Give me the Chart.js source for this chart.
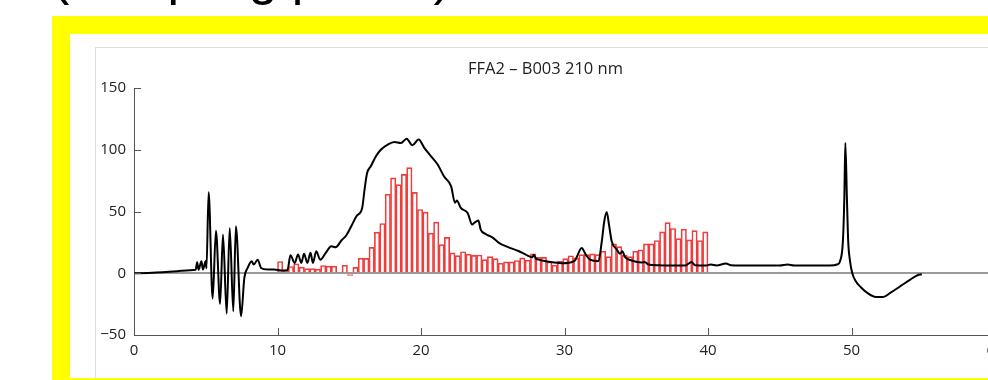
<!DOCTYPE html>
<html>
<head>
<meta charset="utf-8">
<script src="https://cdn.jsdelivr.net/npm/chart.js@4/dist/chart.umd.min.js"></script>
<style>
  html, body { margin: 0; padding: 0; background: #fff; width: 988px; height: 380px; overflow: hidden; position: relative; }
  #caption { position: absolute; left: 52px; top: -50px; font: 52px/1 "Liberation Sans", sans-serif; color: #000; white-space: nowrap; }
  #frame { position: absolute; left: 52px; top: 16px; width: 1100px; height: 400px; background: #ffff00; }
  #inner { position: absolute; left: 18px; top: 18px; width: 1100px; height: 344px; background: #fff; overflow: hidden; }
  #panel { position: absolute; left: 25px; top: 13px; width: 1100px; height: 400px; border: 1px solid #ddd; background: #fff; }
  #chart { position: absolute; left: 0; top: 0; }
</style>
</head>
<body>
<div id="caption">(sampling profile)</div>
<div id="frame"><div id="inner"><div id="panel"><canvas id="chart" width="930" height="333"></canvas></div></div></div>
<script>
// UV trace at 210 nm (time in min, absorbance)
const traceTime = [0, 1, 2, 3, 3.9, 4.3, 4.4, 4.5, 4.7, 4.8, 5.0, 5.05, 5.2, 5.48, 5.71, 6.0, 6.2, 6.46, 6.67, 6.92, 7.1, 7.46, 7.69, 7.92,
  8.2, 8.34, 8.62, 8.85, 9.3, 9.78, 10.24, 10.7, 10.9, 11.2, 11.43, 11.66, 11.85, 12.08, 12.3, 12.47, 12.7, 12.98, 13.36, 13.75,
  14.05, 14.45, 14.8, 15.14, 15.5, 15.9, 16.08, 16.24, 16.5, 16.86, 17.2, 17.68, 18.14, 18.6, 19.0, 19.4, 19.84, 20.23, 20.7,
  21.16, 21.6, 22.1, 22.37, 22.5, 22.77, 23.25, 23.57, 23.7, 24.0, 24.16, 24.5, 24.97, 25.43, 26.1, 26.83, 27.3, 27.76, 27.87,
  28.0, 28.2, 28.7, 29.15, 29.85, 30.3, 30.73, 31.2, 31.48, 31.78, 32.36, 32.6, 32.77, 32.94, 33.1, 33.29, 33.64, 33.87, 34.03,
  34.22, 34.68, 35.38, 35.6, 35.84, 36.54, 37.47, 38.4, 38.86, 39.1, 39.8, 40.2, 40.6, 41.25, 41.6, 43, 45, 45.55, 46, 48.5,
  49.04, 49.2, 49.4, 49.5, 49.57, 49.68, 49.77, 49.9, 50.05, 50.3, 50.65, 51.1, 51.7, 52.2, 52.7, 53.4, 54.1, 54.6, 54.9];
const traceAbs = [0, 0.3, 0.8, 1.6, 2.5, 2.8, 9, 2.8, 9.7, 3, 10, 4, 65.6, -20.5, 34.5, -24.8, 31.3, -32.7, 36.7, -30.8, 38, -34.8, -3.8, 4.3,
  9.7, 7, 11, 4.3, 3, 3, 2.2, 2.7, 14.6, 8.4, 15.1, 8.4, 15.7, 8.4, 16.5, 8.4, 17.8, 11, 16.5, 21.9,
  21, 26.5, 30.8, 38, 46.2, 52.9, 69, 81, 86.6, 94.7, 100, 104.2, 106.3, 105.5, 109, 103.6, 108.3, 101.5, 94.7,
  88, 78.5, 70.4, 57, 59, 52.9, 48.8, 39.4, 40.7, 42.7, 35.4, 31.8, 29.1, 24.6, 21, 17.8, 15.1, 13, 15,
  12, 11, 9.7, 8.9, 8.1, 8.5, 10.3, 20.5, 15.1, 11, 9.7, 25.9, 42, 49.6, 39.4, 25.9, 19.2, 15.7, 17.8,
  13, 10.3, 8.7, 9.2, 7, 6.5, 6.2, 6.2, 9.2, 6.5, 6.2, 7, 6.3, 7.8, 6.5, 6.2, 6.2, 7, 6.2, 6.2,
  7.3, 9.7, 26, 61, 105.5, 61, 26, 9.7, 0.3, -6.5, -11.3, -15.9, -19.2, -19.2, -15.9, -10.5, -5.1, -1.6, -0.8];

// collected fractions: first fraction starts at 10 min, each 0.375 min wide
const fractionStart = 10;
const fractionWidth = 0.375;
const fractionValues = [9.5, 2.3, 5.5, 7.7, 4.9, 3.8, 3.8, 3.3, 6.3, 5.8, 5.8, 1, 6.5, -1.8, 4.7, 12.3, 12, 21, 33.3, 40.3,
  64, 77.2, 71.8, 80, 85.5, 65.5, 51.6, 49.5, 32.5, 41.4, 23.2, 29.1, 16.5, 14.3, 17.4, 15.4, 14.5, 14.8, 11, 13.5,
  11.9, 8.1, 9.2, 9.2, 10.3, 12.4, 10.5, 15.7, 12.9, 12.9, 9.2, 6.5, 9.7, 11.9, 14.2, 12.4, 15.1, 15.1, 15.7, 15.1,
  17.8, 13.5, 23.8, 21.6, 14.6, 13.5, 17.8, 18.9, 23.8, 23.8, 26.5, 33.5, 41, 36.2, 28.1, 35.6, 27, 34.5, 26.5, 33.5];

const xTicks = { min: 0, max: 60, step: 10 };
const yTicks = { min: -50, max: 150, step: 50 };

const trace = traceTime.map((t, i) => ({ x: t, y: traceAbs[i] }));
const fractions = fractionValues.map((v, i) => ({ x: fractionStart + fractionWidth * (i + 0.5), y: v }));

const tickFont = { family: '"Open Sans", sans-serif', size: 15 };

// matlab style ticks pointing into the plot
const inwardTicks = {
  id: 'inwardTicks',
  afterDraw(chart) {
    const { ctx, chartArea, scales } = chart;
    ctx.save();
    ctx.strokeStyle = '#555';
    ctx.lineWidth = 1;
    ctx.beginPath();
    scales.x.ticks.forEach(t => {
      const px = Math.round(scales.x.getPixelForValue(t.value)) + 0.5;
      ctx.moveTo(px, chartArea.bottom);
      ctx.lineTo(px, chartArea.bottom - 7);
    });
    scales.y.ticks.forEach(t => {
      const py = Math.round(scales.y.getPixelForValue(t.value)) + 0.5;
      ctx.moveTo(chartArea.left, py);
      ctx.lineTo(chartArea.left + 7, py);
    });
    ctx.stroke();
    ctx.restore();
  }
};

new Chart(document.getElementById('chart'), {
  type: 'bar',
  data: {
    datasets: [
      {
        type: 'line',
        data: trace,
        borderColor: '#000',
        borderWidth: 2,
        pointRadius: 0,
        cubicInterpolationMode: 'monotone',
        order: 0
      },
      {
        type: 'bar',
        data: fractions,
        borderColor: 'rgb(240,60,60)',
        backgroundColor: 'rgba(255,255,255,0)',
        borderWidth: 1,
        barPercentage: 1,
        categoryPercentage: 1,
        order: 1
      }
    ]
  },
  options: {
    responsive: false,
    animation: false,
    layout: { padding: { left: 0, right: 31, top: 0, bottom: 0 } },
    plugins: {
      legend: { display: false },
      tooltip: { enabled: false },
      title: {
        display: true,
        text: 'FFA2 – B003 210 nm',
        color: '#222',
        font: { family: '"Open Sans", sans-serif', size: 16.5, weight: 'normal' },
        padding: { top: 11.6, bottom: 8.6 }
      }
    },
    scales: {
      x: {
        type: 'linear',
        min: xTicks.min,
        max: xTicks.max,
        offset: false,
        ticks: { stepSize: xTicks.step, padding: 7, color: '#222', font: tickFont, maxRotation: 0 },
        grid: { offset: false, drawTicks: false, color: 'rgba(0,0,0,0)' },
        border: { color: '#555', width: 1 },
        afterFit: s => { s.height = 46; }
      },
      y: {
        min: yTicks.min,
        max: yTicks.max,
        ticks: {
          stepSize: yTicks.step,
          padding: 8,
          color: '#222',
          font: tickFont,
          callback: v => String(v).replace('-', '\u2212')
        },
        grid: {
          drawTicks: false,
          lineWidth: 2,
          color: c => (c.tick && c.tick.value === 0 ? '#9a9a9a' : 'rgba(0,0,0,0)')
        },
        border: { color: '#555', width: 1 },
        afterFit: s => { s.width = 38; }
      }
    }
  },
  plugins: [inwardTicks]
});
</script>
</body>
</html>
